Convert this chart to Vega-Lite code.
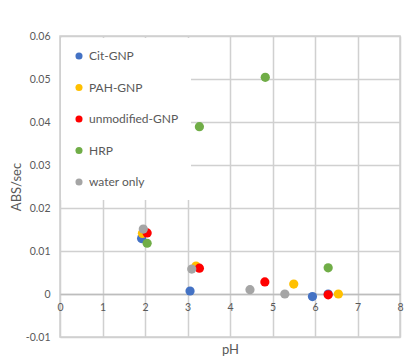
{
  "$schema": "https://vega.github.io/schema/vega-lite/v6.json",
  "width": 340,
  "height": 301,
  "autosize": {"type": "none"},
  "padding": {"left": 60, "top": 36, "right": 10, "bottom": 23},
  "background": "white",
  "config": {
    "font": "Lato",
    "view": {"stroke": "#d0d0d0", "strokeWidth": 1.5},
    "axis": {"ticks": false, "labelColor": "#595959", "titleColor": "#595959", "labelFontSize": 10.5, "titleFontSize": 13, "titleFontWeight": "normal"}
  },
  "data": {
    "values": [
      {"series": "Cit-GNP", "pH": 1.92, "rate": 0.0129},
      {"series": "Cit-GNP", "pH": 3.06, "rate": 0.0007},
      {"series": "Cit-GNP", "pH": 5.94, "rate": -0.0006},
      {"series": "Cit-GNP", "pH": 6.31, "rate": 0.0},
      {"series": "PAH-GNP", "pH": 1.94, "rate": 0.0141},
      {"series": "PAH-GNP", "pH": 3.2, "rate": 0.0065},
      {"series": "PAH-GNP", "pH": 5.5, "rate": 0.0023},
      {"series": "PAH-GNP", "pH": 6.55, "rate": 0.0},
      {"series": "unmodified-GNP", "pH": 2.05, "rate": 0.0142},
      {"series": "unmodified-GNP", "pH": 3.28, "rate": 0.006},
      {"series": "unmodified-GNP", "pH": 4.82, "rate": 0.0028},
      {"series": "unmodified-GNP", "pH": 6.31, "rate": -0.0002},
      {"series": "HRP", "pH": 2.05, "rate": 0.0118},
      {"series": "HRP", "pH": 3.28, "rate": 0.0389},
      {"series": "HRP", "pH": 4.83, "rate": 0.0504},
      {"series": "HRP", "pH": 6.31, "rate": 0.0061},
      {"series": "water only", "pH": 1.96, "rate": 0.0151},
      {"series": "water only", "pH": 3.1, "rate": 0.0058},
      {"series": "water only", "pH": 4.47, "rate": 0.001},
      {"series": "water only", "pH": 5.29, "rate": 0.0}
    ]
  },
  "mark": {"type": "circle", "size": 85, "opacity": 1},
  "encoding": {
    "x": {
      "field": "pH", "type": "quantitative",
      "scale": {"domain": [0, 8], "nice": false},
      "axis": {"title": "pH", "grid": true, "gridColor": "#d0d0d0", "gridWidth": 1.5, "gridOpacity": 1, "values": [0, 1, 2, 3, 4, 5, 6, 7, 8], "offset": -43, "domainColor": "#bdbdbd", "domainWidth": 1.5, "labelFlush": false, "labelPadding": 8, "titlePadding": 31}
    },
    "y": {
      "field": "rate", "type": "quantitative",
      "scale": {"domain": [-0.01, 0.06], "nice": false, "zero": false},
      "axis": {"title": "ABS/sec", "grid": true, "gridColor": "#d0d0d0", "gridWidth": 1.5, "gridOpacity": 1, "values": [-0.01, 0, 0.01, 0.02, 0.03, 0.04, 0.05, 0.06], "domain": false, "labelPadding": 10, "titlePadding": 2, "labelExpr": "replace(format(datum.value, '.2~f'), '\u2212', '-')"}
    },
    "color": {
      "field": "series", "type": "nominal",
      "scale": {"domain": ["Cit-GNP", "PAH-GNP", "unmodified-GNP", "HRP", "water only"], "range": ["#4472c4", "#ffc000", "#ff0000", "#70ad47", "#a5a5a5"]},
      "legend": {"title": null, "orient": "none", "legendX": 1, "legendY": 2, "padding": 12, "fillColor": "white", "symbolType": "circle", "symbolSize": 50, "symbolStrokeWidth": 0, "labelFontSize": 12, "labelColor": "#595959", "rowPadding": 19.5, "labelOffset": 4}
    }
  }
}
